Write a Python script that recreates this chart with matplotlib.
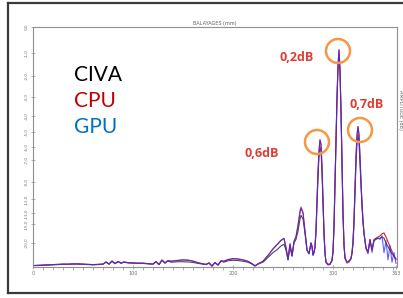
import matplotlib
matplotlib.use('Agg')
import matplotlib.pyplot as plt
from matplotlib.lines import Line2D
from matplotlib.patches import Ellipse
import numpy as np

# scan position (mm)
x = [0, 5, 10, 15, 20, 25, 30, 35, 40, 45, 50, 55, 60, 65, 70, 73, 76, 79, 82, 85,
     88, 91, 95, 100, 105, 110, 115, 120, 123, 126, 129, 132, 135, 138, 142, 146, 150, 155, 160, 165,
     170, 173, 176, 179, 182, 185, 188, 191, 195, 200, 205, 210, 215, 219, 222, 225, 230, 235, 240, 244,
     248, 251, 253, 255, 257, 259, 261, 263, 265, 267, 268, 270, 272, 274, 276, 278, 279, 280, 281, 282,
     283, 284, 285, 286, 287, 288, 289, 290, 291, 292, 293, 295, 297, 299, 300, 301, 302, 303, 304, 305,
     306, 307, 308, 309, 310, 311, 312, 314, 316, 318, 319, 320, 321, 322, 323, 324, 325, 326, 327, 328,
     329, 330, 331, 332, 333, 335, 337, 339, 341, 343, 345, 347, 349, 351, 353, 355, 357, 359, 361, 363]

civa = [0.006, 0.006, 0.007, 0.008, 0.009, 0.010, 0.011, 0.011, 0.012, 0.012, 0.011, 0.010, 0.009, 0.010, 0.012, 0.020, 0.012, 0.024, 0.014, 0.022,
        0.016, 0.020, 0.017, 0.016, 0.015, 0.015, 0.013, 0.012, 0.022, 0.010, 0.028, 0.016, 0.025, 0.020, 0.021, 0.022, 0.022, 0.021, 0.019, 0.015,
        0.012, 0.010, 0.016, 0.004, 0.018, 0.008, 0.024, 0.020, 0.026, 0.028, 0.027, 0.024, 0.020, 0.012, 0.004, 0.012, 0.020, 0.040, 0.060, 0.072,
        0.088, 0.095, 0.070, 0.030, 0.085, 0.045, 0.100, 0.115, 0.150, 0.200, 0.215, 0.200, 0.140, 0.070, 0.055, 0.095, 0.085, 0.050, 0.060, 0.080,
        0.145, 0.260, 0.375, 0.460, 0.500, 0.485, 0.395, 0.260, 0.135, 0.055, 0.020, 0.012, 0.012, 0.025, 0.060, 0.165, 0.345, 0.530, 0.695, 0.825,
        0.885, 0.805, 0.640, 0.425, 0.220, 0.090, 0.035, 0.022, 0.025, 0.035, 0.055, 0.095, 0.180, 0.305, 0.430, 0.515, 0.550, 0.515, 0.430, 0.335,
        0.250, 0.185, 0.138, 0.110, 0.080, 0.065, 0.110, 0.075, 0.110, 0.115, 0.120, 0.120, 0.125, 0.120, 0.100, 0.085, 0.070, 0.055, 0.045, 0.035]

cpu = [0.006, 0.007, 0.008, 0.009, 0.010, 0.011, 0.012, 0.012, 0.013, 0.013, 0.012, 0.011, 0.010, 0.011, 0.012, 0.021, 0.012, 0.025, 0.014, 0.023,
       0.016, 0.021, 0.018, 0.017, 0.016, 0.016, 0.014, 0.012, 0.023, 0.010, 0.029, 0.017, 0.027, 0.024, 0.026, 0.028, 0.029, 0.028, 0.024, 0.018,
       0.013, 0.011, 0.017, 0.004, 0.019, 0.008, 0.026, 0.024, 0.031, 0.035, 0.034, 0.030, 0.024, 0.014, 0.005, 0.013, 0.024, 0.048, 0.075, 0.092,
       0.110, 0.118, 0.082, 0.033, 0.095, 0.048, 0.105, 0.125, 0.170, 0.225, 0.245, 0.225, 0.150, 0.072, 0.058, 0.100, 0.088, 0.052, 0.062, 0.085,
       0.155, 0.275, 0.395, 0.485, 0.530, 0.512, 0.418, 0.278, 0.145, 0.060, 0.022, 0.010, 0.012, 0.030, 0.065, 0.170, 0.350, 0.540, 0.710, 0.840,
       0.905, 0.825, 0.655, 0.435, 0.225, 0.095, 0.040, 0.020, 0.024, 0.038, 0.060, 0.105, 0.195, 0.325, 0.460, 0.550, 0.585, 0.552, 0.460, 0.355,
       0.265, 0.195, 0.142, 0.112, 0.080, 0.060, 0.115, 0.070, 0.115, 0.120, 0.125, 0.130, 0.138, 0.142, 0.125, 0.105, 0.085, 0.065, 0.045, 0.030]

gpu = [0.006, 0.007, 0.008, 0.009, 0.010, 0.011, 0.012, 0.012, 0.013, 0.013, 0.012, 0.011, 0.010, 0.011, 0.012, 0.021, 0.012, 0.025, 0.014, 0.023,
       0.016, 0.021, 0.018, 0.017, 0.016, 0.016, 0.014, 0.012, 0.023, 0.010, 0.029, 0.017, 0.027, 0.024, 0.026, 0.028, 0.030, 0.029, 0.025, 0.018,
       0.013, 0.011, 0.017, 0.004, 0.019, 0.008, 0.026, 0.024, 0.031, 0.034, 0.033, 0.029, 0.023, 0.014, 0.005, 0.013, 0.024, 0.048, 0.076, 0.094,
       0.112, 0.120, 0.080, 0.030, 0.098, 0.046, 0.108, 0.128, 0.175, 0.235, 0.250, 0.228, 0.150, 0.070, 0.055, 0.102, 0.086, 0.048, 0.060, 0.085,
       0.155, 0.275, 0.395, 0.485, 0.530, 0.512, 0.418, 0.278, 0.145, 0.058, 0.018, 0.008, 0.010, 0.028, 0.065, 0.170, 0.350, 0.540, 0.710, 0.840,
       0.905, 0.825, 0.655, 0.435, 0.225, 0.092, 0.036, 0.016, 0.020, 0.034, 0.060, 0.105, 0.195, 0.325, 0.460, 0.550, 0.585, 0.552, 0.460, 0.355,
       0.265, 0.195, 0.142, 0.110, 0.075, 0.055, 0.115, 0.060, 0.110, 0.118, 0.120, 0.115, 0.130, 0.060, 0.110, 0.030, 0.090, 0.020, 0.060, 0.015]

ytick_db = [0, -1, -2, -3, -4, -5, -6, -7, -9, -11, -13, -15, -20]
xtick_vals = [0, 100, 200, 300, 363]

fig = plt.figure(figsize=(4.03, 2.98), dpi=100)
W, H = 403, 298

# slide frame
frame = dict(color='#3a3a3a', lw=1.6, transform=fig.transFigure)
fig.add_artist(Line2D([8/W, 8/W], [1-3/H, 1-293/H], **frame))
fig.add_artist(Line2D([8/W, 1], [1-3/H, 1-3/H], **frame))
fig.add_artist(Line2D([8/W, 1], [1-293/H, 1-293/H], **frame))

ax = fig.add_axes([33/W, 1-267/H, (397-33)/W, (267-27)/H])
ax.plot(x, civa, color='#4a4a4a', lw=0.8)
ax.plot(x, cpu, color='#e02020', lw=0.8)
ax.plot(x, gpu, color='#2a2aff', lw=0.8, alpha=0.75)

ax.set_xlim(0, 364)
ax.set_ylim(0, 1)
ax.set_xticks(xtick_vals)
ax.set_xticklabels([str(v) for v in xtick_vals])
ax.set_xticks(np.arange(0, 364, 10), minor=True)
ax.set_yticks([10 ** (d / 20) for d in ytick_db])
ax.set_yticklabels(['{:.1f}'.format(d).replace('.', ',') if d else '0,0' for d in ytick_db],
                   rotation=90, va='center')
for s in ax.spines.values():
    s.set_color('#909090')
    s.set_linewidth(0.8)
ax.tick_params(axis='both', which='major', labelsize=3.5, labelcolor='#707070', color='#909090',
               length=3, width=0.5, direction='inout', pad=1.5)
ax.tick_params(axis='y', which='major', labelsize=3)
ax.tick_params(axis='x', which='minor', color='#909090', length=2, width=0.5, direction='out')

fig.text(215/W, 1-23/H, 'BALAYAGES (mm)', fontsize=3.5, color='#606060', ha='center', va='center')
fig.text(400/W, 1-110/H, 'AMPLITUDE (dB)', fontsize=3.5, color='#606060', rotation=-90,
         ha='center', va='center')

# legend-like labels
fig.text(74/W, 1-81/H, 'CIVA', fontsize=15, family='Lato', color='black')
fig.text(74/W, 1-107/H, 'CPU', fontsize=15, family='Lato', color='#c00000')
fig.text(74/W, 1-133/H, 'GPU', fontsize=15, family='Lato', color='#0070c0')

# dB differences
lab = dict(fontsize=9, family='Open Sans', fontweight='bold', color='#e03c31')
fig.text(280/W, 1-61/H, '0,2dB', **lab)
fig.text(350/W, 1-108/H, '0,7dB', **lab)
fig.text(245/W, 1-157/H, '0,6dB', **lab)

for cx, cy in [(338, 51), (360, 130), (317, 142)]:
    fig.add_artist(Ellipse((cx/W, 1-cy/H), 24/W, 24/H, transform=fig.transFigure,
                           fill=False, ec='#f79646', lw=1.8))

plt.savefig('out.png', dpi=100)
